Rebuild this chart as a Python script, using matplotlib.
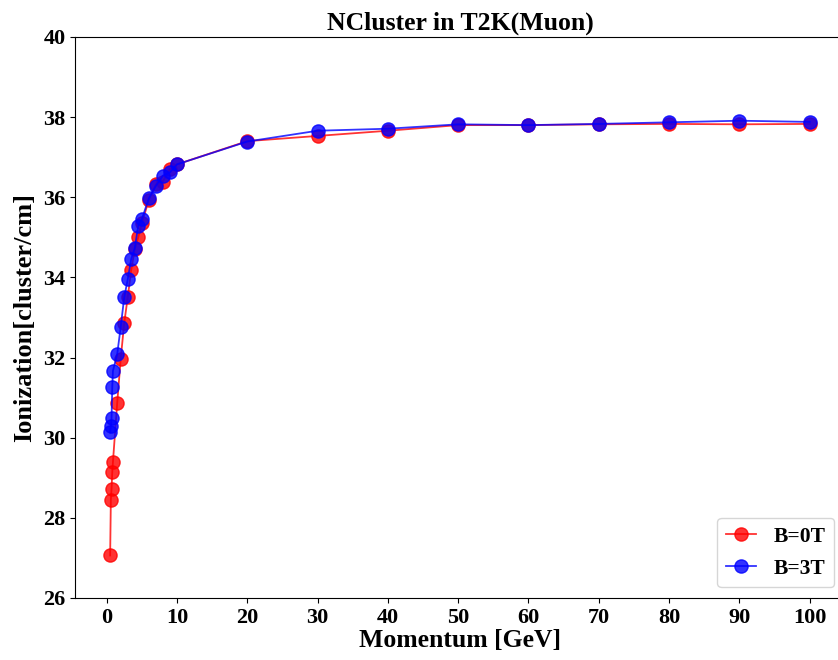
import matplotlib
matplotlib.use("Agg")
import matplotlib.pyplot as plt

plt.rcParams['font.family'] = ['Liberation Serif', 'DejaVu Serif']
plt.rcParams['font.weight'] = 'bold'

momentum = [0.5, 0.6, 0.7, 0.8, 0.9, 1.5, 2, 2.5, 3, 3.5, 4, 4.5, 5, 6, 7, 8, 9, 10,
            20, 30, 40, 50, 60, 70, 80, 90, 100]
ncl_b0 = [27.06, 28.45, 28.72, 29.14, 29.40, 30.86, 31.96, 32.86, 33.50, 34.19, 34.70,
          35.00, 35.35, 35.93, 36.32, 36.39, 36.70, 36.82,
          37.40, 37.53, 37.66, 37.80, 37.80, 37.82, 37.83, 37.82, 37.83]
ncl_b3 = [30.13, 30.29, 30.48, 31.26, 31.67, 32.08, 32.76, 33.50, 33.95, 34.46, 34.73,
          35.29, 35.45, 35.97, 36.28, 36.54, 36.62, 36.82,
          37.39, 37.66, 37.71, 37.82, 37.80, 37.83, 37.87, 37.91, 37.88]

fig = plt.figure(figsize=(8.38, 6.6), dpi=100)
# the original image is cropped on the right, so the axes runs past the edge
ax = fig.add_axes([0.0897, 0.094, 0.9183, 0.850])

ax.plot(momentum, ncl_b0, '-o', color='red', alpha=0.8, markersize=9.5, linewidth=1.3, label='B=0T')
ax.plot(momentum, ncl_b3, '-o', color='blue', alpha=0.8, markersize=9.5, linewidth=1.3, label='B=3T')

ax.set_ylim(26, 40)
ax.set_xticks(range(0, 101, 10))
ax.set_yticks(range(26, 41, 2))
ax.tick_params(labelsize=16)
for lab in ax.get_xticklabels() + ax.get_yticklabels():
    lab.set_fontweight('bold')

ax.set_title('NCluster in T2K(Muon)', fontsize=18.5, fontweight='bold', pad=5)
ax.set_xlabel('Momentum [GeV]', fontsize=18.5, fontweight='bold', labelpad=1)
ax.set_ylabel('Ionization[cluster/cm]', fontsize=19, fontweight='bold', labelpad=5)

leg = ax.legend(loc='lower right', prop={'size': 15.5, 'weight': 'bold'},
                handlelength=1.4, labelspacing=0.55)

fig.savefig('out.png', dpi=100)
